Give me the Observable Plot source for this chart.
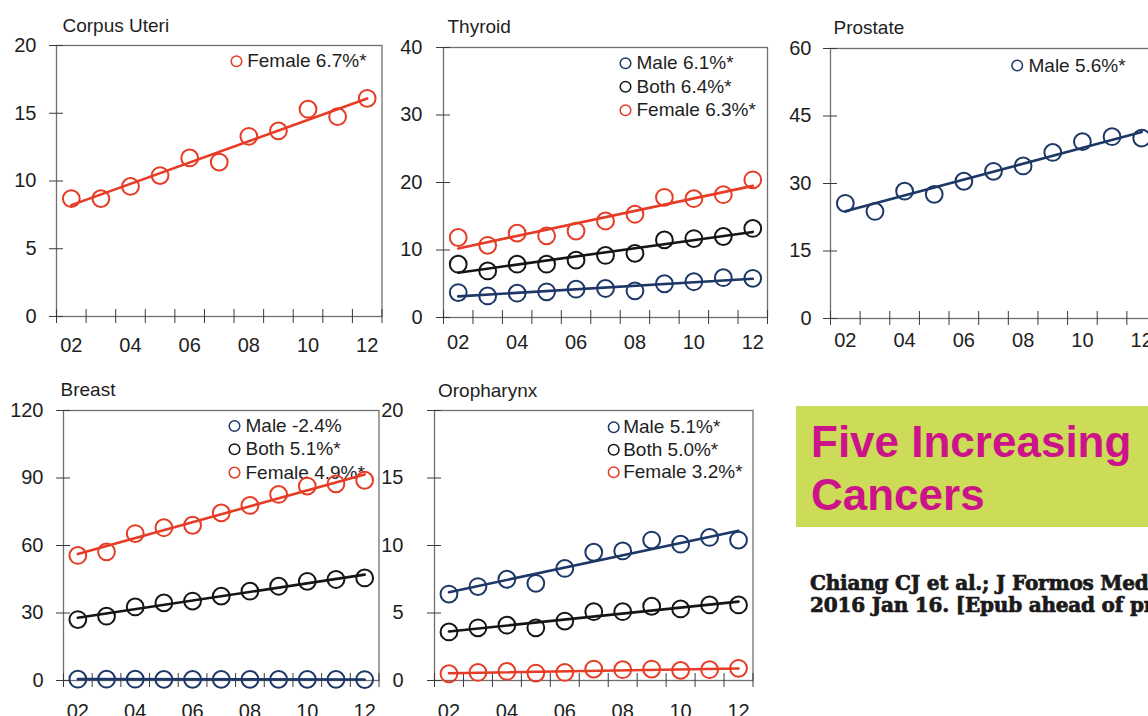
<!DOCTYPE html>
<html>
<head>
<meta charset="utf-8">
<script src="https://cdn.jsdelivr.net/npm/d3@7"></script>
<script src="https://cdn.jsdelivr.net/npm/@observablehq/plot@0.6"></script>
<style>
  html, body { margin: 0; padding: 0; background: #fff; overflow: hidden; }
  #page { position: relative; width: 1148px; height: 716px; overflow: hidden; background: #fff;
          font-family: "Liberation Sans", Arial, sans-serif; }
  .panel { position: absolute; }
  #banner { position: absolute; left: 796px; top: 406px; width: 420px; height: 121px; background: #cddc58; }
  #banner div { position: absolute; left: 15px; white-space: nowrap; font-family: "Liberation Sans", Arial, sans-serif;
                font-weight: bold; font-size: 44px; line-height: 44px; color: #cc148a; }
  #cite { position: absolute; left: 810px; top: 572px; white-space: nowrap; font-family: "DejaVu Serif", serif;
          font-weight: bold; font-size: 20px; line-height: 22px; color: #1a1a1a; letter-spacing: -0.2px;
          -webkit-text-stroke: 0.7px #1a1a1a; }
</style>
</head>
<body>
<div id="page">
  <div id="banner"><div style="top:14px">Five Increasing</div><div style="top:67px">Cancers</div></div>
  <div id="cite">Chiang CJ et al.; J Formos Med Assoc.<br>2016 Jan 16. [Epub ahead of print]</div>
</div>
<script>
// ---------- data ----------
const years = [2002, 2003, 2004, 2005, 2006, 2007, 2008, 2009, 2010, 2011, 2012];
const labelYears = [2002, 2004, 2006, 2008, 2010, 2012];
const xTickLabels = ["02", "04", "06", "08", "10", "12"];

const corpusFemale = [8.7, 8.7, 9.6, 10.4, 11.7, 11.4, 13.3, 13.7, 15.3, 14.75, 16.1];

const thyroidMale = [3.7, 3.2, 3.6, 3.8, 4.2, 4.3, 3.95, 5.0, 5.3, 5.9, 5.8];
const thyroidBoth = [7.9, 6.9, 7.9, 7.9, 8.5, 9.2, 9.5, 11.5, 11.7, 12.0, 13.2];
const thyroidFemale = [11.85, 10.7, 12.5, 12.1, 12.8, 14.3, 15.3, 17.8, 17.6, 18.2, 20.4];

const prostateMale = [25.6, 23.8, 28.3, 27.6, 30.5, 32.7, 33.9, 36.9, 39.3, 40.4, 40.1];

const breastMale = [0.6, 0.6, 0.6, 0.5, 0.5, 0.5, 0.5, 0.5, 0.5, 0.5, 0.4];
const breastBoth = [27.1, 28.6, 32.7, 34.5, 35.3, 37.5, 39.7, 41.9, 44.1, 44.9, 45.6];
const breastFemale = [55.6, 57.2, 65.3, 67.9, 69.0, 74.5, 77.8, 82.7, 86.4, 87.4, 89.0];

const oroMale = [6.4, 6.96, 7.5, 7.2, 8.3, 9.5, 9.6, 10.4, 10.1, 10.6, 10.4];
const oroBoth = [3.6, 3.9, 4.1, 3.9, 4.4, 5.1, 5.1, 5.5, 5.3, 5.6, 5.6];
const oroFemale = [0.5, 0.6, 0.67, 0.55, 0.6, 0.85, 0.8, 0.85, 0.75, 0.8, 0.9];

const corpusTicks = [0, 5, 10, 15, 20];
const thyroidTicks = [0, 10, 20, 30, 40];
const prostateTicks = [0, 15, 30, 45, 60];
const breastTicks = [0, 30, 60, 90, 120];
const oroTicks = [0, 5, 10, 15, 20];

const corpusLegend = ["Female 6.7%*"];
const thyroidLegend = ["Male 6.1%*", "Both 6.4%*", "Female 6.3%*"];
const prostateLegend = ["Male 5.6%*"];
const breastLegend = ["Male -2.4%", "Both 5.1%*", "Female 4.9%*"];
const oroLegend = ["Male 5.1%*", "Both 5.0%*", "Female 3.2%*"];

const titles = ["Corpus Uteri", "Thyroid", "Prostate", "Breast", "Oropharynx"];

// ---------- styles ----------
const RED = "#e63b25", NAVY = "#1d3767", BLACK = "#151515";
const FONT = "'Liberation Sans', Arial, sans-serif";

const boundaries = years.map(y => y - 0.5).concat([years[years.length - 1] + 0.5]);
const rowsOf = vals => years.map((y, i) => ({year: y, value: vals[i]}));

const panels = [
  {title: titles[0], frame: [56, 381.5, 45, 316], ticks: corpusTicks, yPad: 20, xPad: 21, tdx: 6, tdy: -14,
   series: [{vals: corpusFemale, color: RED}], legend: corpusLegend, lcol: [RED], lx: 180, ly: 15.7, lsp: 23.5, lg: 10.7},
  {title: titles[1], frame: [443, 767, 47, 317], ticks: thyroidTicks, yPad: 21, xPad: 17, tdx: 4, tdy: -15,
   series: [{vals: thyroidMale, color: NAVY}, {vals: thyroidBoth, color: BLACK}, {vals: thyroidFemale, color: RED}],
   legend: thyroidLegend, lcol: [NAVY, BLACK, RED], lx: 182, ly: 15.7, lsp: 23.5, lg: 11},
  {title: titles[2], frame: [830, 1156, 48, 318], ticks: prostateTicks, yPad: 19, xPad: 14, tdx: 3, tdy: -15,
   series: [{vals: prostateMale, color: NAVY}], legend: prostateLegend, lcol: [NAVY], lx: 186.7, ly: 17, lsp: 23.5, lg: 11.3},
  {title: titles[3], frame: [63, 378.5, 409.5, 679.5], ticks: breastTicks, yPad: 20, xPad: 23, tdx: -3, tdy: -14.5,
   series: [{vals: breastMale, color: NAVY}, {vals: breastBoth, color: BLACK}, {vals: breastFemale, color: RED}],
   legend: breastLegend, lcol: [NAVY, BLACK, RED], lx: 171, ly: 15.5, lsp: 23.3, lg: 11},
  {title: titles[4], frame: [433.5, 752, 410, 680], ticks: oroTicks, yPad: 31, xPad: 23, tdx: 3.5, tdy: -14,
   series: [{vals: oroMale, color: NAVY}, {vals: oroBoth, color: BLACK}, {vals: oroFemale, color: RED}],
   legend: oroLegend, lcol: [NAVY, BLACK, RED], lx: 179.2, ly: 16.7, lsp: 22.5, lg: 9.5}
];

const mL = 62, mR = 10, mT = 40, mB = 50;
const page = document.getElementById("page");

for (const p of panels) {
  const [L, R, T, B] = p.frame;
  const width = (R - L) + mL + mR, height = (B - T) + mT + mB;
  const marks = [
    Plot.frame({stroke: "#707070", strokeWidth: 1.3}),
    Plot.axisY({ticks: p.ticks, tickSize: 14, dx: 7, tickFormat: () => "", stroke: "#3a3a3a"}),
    Plot.axisY({ticks: p.ticks, tickSize: 0, tickPadding: p.yPad, fontSize: 20, fill: "#1e1e1e"}),
    Plot.axisX({ticks: boundaries, tickSize: 14, dy: -7, tickFormat: () => "", stroke: "#3a3a3a"}),
    Plot.axisX({ticks: labelYears, tickSize: 0, tickPadding: p.xPad, fontSize: 20, fill: "#1e1e1e",
                tickFormat: d => xTickLabels[labelYears.indexOf(d)]}),
    Plot.text([p.title], {frameAnchor: "top-left", dx: p.tdx, dy: p.tdy, lineAnchor: "bottom",
                          textAnchor: "start", fontSize: 19, fill: "#1e1e1e"})
  ];
  p.legend.forEach((label, i) => {
    marks.push(
      Plot.dot([label], {frameAnchor: "top-left", dx: p.lx, dy: p.ly + i * p.lsp, r: 5.3,
                         stroke: p.lcol[i], strokeWidth: 1.5, fill: "none"}),
      Plot.text([label], {frameAnchor: "top-left", dx: p.lx + p.lg, dy: p.ly + i * p.lsp, text: d => d,
                          textAnchor: "start", lineAnchor: "middle", fontSize: 19, fill: "#1e1e1e"})
    );
  });
  for (const s of p.series) {
    const rows = rowsOf(s.vals);
    marks.push(
      Plot.dot(rows, {x: "year", y: "value", r: 8.4, stroke: s.color, strokeWidth: 2, fill: "none"}),
      Plot.linearRegressionY(rows, {x: "year", y: "value", stroke: s.color, strokeWidth: 2.6, ci: 0})
    );
  }
  const svg = Plot.plot({
    width, height, marginLeft: mL, marginRight: mR, marginTop: mT, marginBottom: mB,
    x: {domain: [boundaries[0], boundaries[boundaries.length - 1]], label: null},
    y: {domain: [p.ticks[0], p.ticks[p.ticks.length - 1]], label: null},
    style: {fontFamily: FONT, fontSize: "20px", color: "#1e1e1e", background: "transparent", overflow: "visible"},
    marks
  });
  svg.classList.add("panel");
  svg.style.left = (L - mL) + "px";
  svg.style.top = (T - mT) + "px";
  page.appendChild(svg);
}
</script>
</body>
</html>
